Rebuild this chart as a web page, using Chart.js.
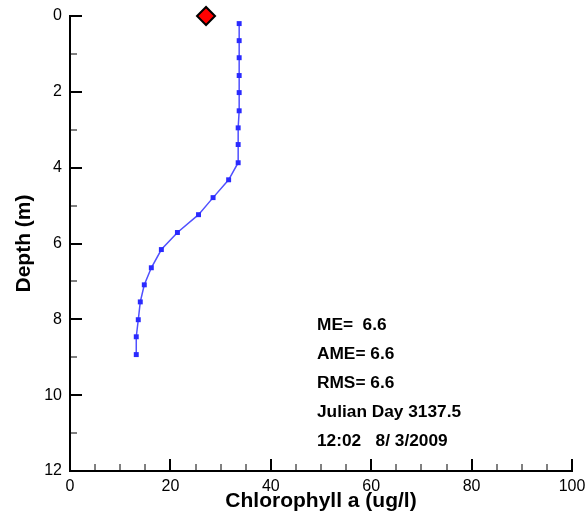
<!DOCTYPE html>
<html>
<head>
<meta charset="utf-8">
<script src="https://cdn.jsdelivr.net/npm/chart.js@4/dist/chart.umd.min.js"></script>
<style>
  html, body { margin: 0; padding: 0; background: #fff; }
  #wrap { width: 585px; height: 515px; }
</style>
</head>
<body>
<div id="wrap"><canvas id="myChart" width="585" height="515"></canvas></div>
<script>
// modelled profile: chlorophyll (ug/l) vs depth (m)
var modelChl   = [33.7, 33.7, 33.7, 33.7, 33.7, 33.7, 33.5, 33.5, 33.5, 31.6, 28.5, 25.6, 21.4, 18.2, 16.2, 14.8, 14.0, 13.6, 13.2, 13.2];
var modelDepth = [0.2, 0.65, 1.1, 1.57, 2.02, 2.5, 2.95, 3.39, 3.87, 4.32, 4.79, 5.24, 5.71, 6.16, 6.64, 7.09, 7.54, 8.01, 8.46, 8.93];
// observation
var obsChl   = [27.1];
var obsDepth = [0];

var statLines = ["ME=  6.6", "AME= 6.6", "RMS= 6.6", "Julian Day 3137.5", "12:02   8/ 3/2009"];

function toPoints(xs, ys) {
    var out = [];
    for (var i = 0; i < xs.length; i++) out.push({ x: xs[i], y: ys[i] });
    return out;
}

// inward tick marks + text block
var extras = {
    id: "extras",
    afterDraw: function (chart) {
        var ctx = chart.ctx, a = chart.chartArea;
        var xs = chart.scales.x, ys = chart.scales.y;
        ctx.save();
        ctx.strokeStyle = "#000";
        for (var v = 0; v <= 12; v++) {
            var py = Math.round(ys.getPixelForValue(v));
            var major = v % 2 === 0;
            ctx.lineWidth = major ? 2 : 1;
            ctx.beginPath();
            ctx.moveTo(a.left, py);
            ctx.lineTo(a.left + (major ? 12 : 7), py);
            ctx.stroke();
        }
        for (var u = 0; u <= 100; u += 5) {
            var px = Math.round(xs.getPixelForValue(u));
            var maj = u % 20 === 0;
            ctx.lineWidth = maj ? 2 : 1;
            ctx.beginPath();
            ctx.moveTo(px, a.bottom);
            ctx.lineTo(px, a.bottom - (maj ? 12 : 7));
            ctx.stroke();
        }
        ctx.fillStyle = "#000";
        ctx.font = "bold 16px 'Liberation Sans', Arial, sans-serif";
        ctx.textAlign = "left";
        ctx.textBaseline = "alphabetic";
        for (var i = 0; i < statLines.length; i++) {
            ctx.save();
            ctx.translate(317, 330 + i * 29);
            ctx.scale(1.08, 1);
            ctx.fillText(statLines[i], 0, 0);
            ctx.restore();
        }
        ctx.restore();
    }
};

new Chart("myChart", {
    type: "scatter",
    data: {
        datasets: [{
            data: toPoints(modelChl, modelDepth),
            showLine: true,
            borderColor: "#5050ff",
            borderWidth: 1.5,
            pointStyle: "rect",
            pointRadius: 3.5,
            pointBackgroundColor: "#2a2aff",
            pointBorderColor: "#2a2aff",
            pointBorderWidth: 0,
            clip: false
        }, {
            data: toPoints(obsChl, obsDepth),
            pointStyle: "rectRot",
            pointRadius: 9,
            pointBackgroundColor: "#ff0000",
            pointBorderColor: "#000",
            pointBorderWidth: 2,
            clip: false
        }]
    },
    options: {
        responsive: false,
        animation: false,
        layout: { padding: { top: 16, right: 13, left: 0, bottom: 0 } },
        plugins: { legend: { display: false }, tooltip: { enabled: false } },
        scales: {
            x: {
                type: "linear",
                min: 0, max: 100,
                grid: { display: false, drawTicks: false },
                border: { display: true, color: "#000", width: 2 },
                ticks: { stepSize: 20, padding: 6, color: "#000", font: { family: "'Liberation Sans', Arial", size: 16 } },
                title: { display: true, text: "Chlorophyll a (ug/l)", color: "#000", padding: { top: 0, bottom: 1 },
                         font: { family: "'Liberation Sans', Arial", size: 21, weight: "bold" } },
                afterFit: function (s) { s.height = 44; s.paddingLeft = 0; s.paddingRight = 0; }
            },
            y: {
                type: "linear",
                reverse: true,
                min: 0, max: 12,
                grid: { display: false, drawTicks: false },
                border: { display: true, color: "#000", width: 2 },
                ticks: { stepSize: 2, padding: 8, color: "#000", font: { family: "'Liberation Sans', Arial", size: 16 } },
                title: { display: true, text: "Depth (m)", color: "#000", padding: { top: 12, bottom: 0 },
                         font: { family: "'Liberation Sans', Arial", size: 21, weight: "bold" } },
                afterFit: function (s) { s.width = 70; s.paddingTop = 0; s.paddingBottom = 0; }
            }
        }
    },
    plugins: [extras]
});
</script>
</body>
</html>
